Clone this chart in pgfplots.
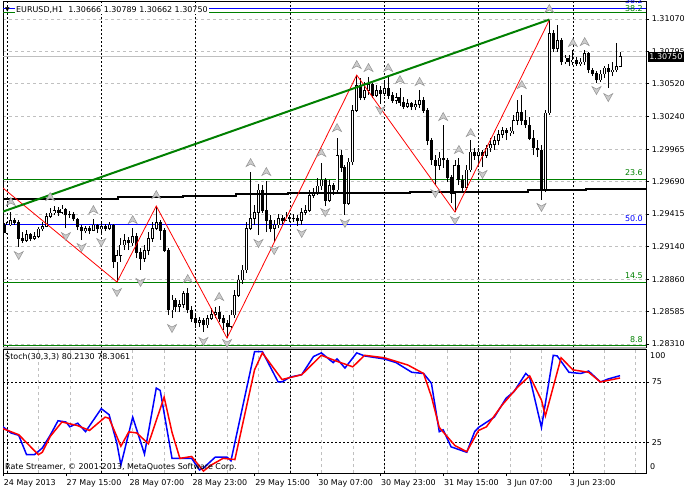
\documentclass[border=0pt]{standalone}
\usepackage{fontspec}
\setmainfont{DejaVu Sans}
\usepackage{pgfplots}
\usepackage{pgfplotstable}
\pgfplotsset{compat=1.18}

\definecolor{fibgreen}{RGB}{0,128,0}
\definecolor{fibblue}{RGB}{0,0,255}
\definecolor{zzred}{RGB}{255,0,0}
\definecolor{gridgray}{RGB}{192,192,192}
\definecolor{bidgray}{RGB}{192,192,192}

% EURUSD H1 candles, bar index i, open high low close
\pgfplotstableread{
i o h l c
0 1.29338 1.29363 1.29227 1.29253
1 1.29253 1.29346 1.29244 1.29321
2 1.29321 1.29431 1.29312 1.29363
3 1.29363 1.29380 1.29321 1.29346
4 1.29346 1.29363 1.29134 1.29210
5 1.29210 1.29261 1.29168 1.29193
6 1.29193 1.29278 1.29176 1.29244
7 1.29244 1.29253 1.29185 1.29210
8 1.29210 1.29261 1.29193 1.29227
9 1.29227 1.29304 1.29210 1.29287
10 1.29287 1.29346 1.29270 1.29312
11 1.29312 1.29423 1.29304 1.29397
12 1.29397 1.29465 1.29380 1.29423
13 1.29423 1.29482 1.29406 1.29448
14 1.29448 1.29474 1.29397 1.29431
15 1.29431 1.29491 1.29414 1.29457
16 1.29457 1.29465 1.29295 1.29406
17 1.29406 1.29440 1.29380 1.29414
18 1.29414 1.29431 1.29355 1.29372
19 1.29372 1.29380 1.29278 1.29304
20 1.29304 1.29321 1.29193 1.29270
21 1.29270 1.29312 1.29253 1.29295
22 1.29295 1.29312 1.29244 1.29278
23 1.29278 1.29372 1.29270 1.29321
24 1.29321 1.29329 1.29253 1.29287
25 1.29287 1.29346 1.29236 1.29312
26 1.29312 1.29329 1.29270 1.29295
27 1.29295 1.29346 1.29278 1.29321
28 1.29321 1.29329 1.28956 1.29007
29 1.29007 1.29108 1.28837 1.29066
30 1.29066 1.29210 1.29007 1.29151
31 1.29151 1.29244 1.29108 1.29193
32 1.29193 1.29219 1.29108 1.29168
33 1.29168 1.29295 1.29142 1.29227
34 1.29227 1.29253 1.29040 1.29091
35 1.29091 1.29125 1.28939 1.29040
36 1.29040 1.29151 1.29007 1.29108
37 1.29108 1.29261 1.29066 1.29210
38 1.29210 1.29346 1.29176 1.29295
39 1.29295 1.29482 1.29278 1.29346
40 1.29346 1.29363 1.29193 1.29278
41 1.29278 1.29295 1.29091 1.29108
42 1.29108 1.29125 1.28557 1.28599
43 1.28599 1.28726 1.28531 1.28684
44 1.28684 1.28701 1.28582 1.28625
45 1.28625 1.28684 1.28582 1.28642
46 1.28642 1.28760 1.28616 1.28743
47 1.28743 1.28786 1.28573 1.28599
48 1.28599 1.28633 1.28497 1.28531
49 1.28531 1.28557 1.28446 1.28497
50 1.28497 1.28540 1.28455 1.28514
51 1.28514 1.28531 1.28412 1.28472
52 1.28472 1.28557 1.28446 1.28531
53 1.28531 1.28616 1.28514 1.28565
54 1.28565 1.28625 1.28531 1.28582
55 1.28582 1.28633 1.28497 1.28531
56 1.28531 1.28557 1.28429 1.28489
57 1.28489 1.28514 1.28361 1.28463
58 1.28463 1.28599 1.28446 1.28557
59 1.28557 1.28769 1.28531 1.28726
60 1.28726 1.28896 1.28710 1.28854
61 1.28854 1.28981 1.28820 1.28939
62 1.28939 1.29346 1.28913 1.29295
63 1.29295 1.29771 1.29278 1.29380
64 1.29380 1.29491 1.29321 1.29431
65 1.29431 1.29669 1.29236 1.29618
66 1.29618 1.29660 1.29423 1.29448
67 1.29448 1.29694 1.29261 1.29363
68 1.29363 1.29406 1.29261 1.29295
69 1.29295 1.29363 1.29176 1.29321
70 1.29321 1.29414 1.29295 1.29380
71 1.29380 1.29406 1.29329 1.29363
72 1.29363 1.29431 1.29355 1.29389
73 1.29389 1.29406 1.29346 1.29372
74 1.29372 1.29414 1.29346 1.29380
75 1.29380 1.29406 1.29312 1.29363
76 1.29363 1.29465 1.29321 1.29431
77 1.29431 1.29491 1.29406 1.29448
78 1.29448 1.29618 1.29431 1.29575
79 1.29575 1.29635 1.29550 1.29601
80 1.29601 1.29720 1.29575 1.29652
81 1.29652 1.29847 1.29618 1.29703
82 1.29703 1.29720 1.29482 1.29533
83 1.29533 1.29703 1.29516 1.29660
84 1.29660 1.29677 1.29575 1.29618
85 1.29618 1.30059 1.29601 1.29915
86 1.29915 1.29958 1.29771 1.29813
87 1.29813 1.29830 1.29406 1.29507
88 1.29507 1.29890 1.29491 1.29856
89 1.29856 1.30340 1.29830 1.30297
90 1.30297 1.30594 1.30280 1.30509
91 1.30509 1.30569 1.30382 1.30407
92 1.30407 1.30535 1.30382 1.30467
93 1.30467 1.30577 1.30424 1.30518
94 1.30518 1.30526 1.30399 1.30424
95 1.30424 1.30509 1.30407 1.30467
96 1.30467 1.30501 1.30348 1.30441
97 1.30441 1.30552 1.30416 1.30484
98 1.30484 1.30586 1.30390 1.30424
99 1.30424 1.30450 1.30356 1.30382
100 1.30382 1.30441 1.30348 1.30407
101 1.30407 1.30484 1.30331 1.30365
102 1.30365 1.30407 1.30306 1.30331
103 1.30331 1.30390 1.30314 1.30356
104 1.30356 1.30365 1.30297 1.30323
105 1.30323 1.30382 1.30297 1.30348
106 1.30348 1.30467 1.30314 1.30382
107 1.30382 1.30407 1.30272 1.30297
108 1.30297 1.30314 1.30000 1.30042
109 1.30042 1.30059 1.29830 1.29873
110 1.29873 1.29915 1.29660 1.29830
111 1.29830 1.29941 1.29788 1.29890
112 1.29890 1.30170 1.29805 1.29873
113 1.29873 1.29890 1.29686 1.29728
114 1.29728 1.29745 1.29507 1.29592
115 1.29592 1.29873 1.29431 1.29830
116 1.29830 1.29890 1.29660 1.29703
117 1.29703 1.29745 1.29601 1.29643
118 1.29643 1.29830 1.29618 1.29788
119 1.29788 1.30042 1.29771 1.29941
120 1.29941 1.29975 1.29873 1.29915
121 1.29915 1.29975 1.29830 1.29941
122 1.29941 1.29958 1.29813 1.29915
123 1.29915 1.30000 1.29890 1.29975
124 1.29975 1.30059 1.29941 1.30008
125 1.30008 1.30076 1.29958 1.30042
126 1.30042 1.30127 1.30000 1.30093
127 1.30093 1.30153 1.30059 1.30127
128 1.30127 1.30144 1.30042 1.30102
129 1.30102 1.30153 1.30076 1.30119
130 1.30119 1.30255 1.30093 1.30212
131 1.30212 1.30382 1.30170 1.30280
132 1.30280 1.30424 1.30170 1.30212
133 1.30212 1.30297 1.30144 1.30170
134 1.30170 1.30238 1.30042 1.30059
135 1.30059 1.30127 1.29915 1.29975
136 1.29975 1.30042 1.29898 1.29958
137 1.29958 1.30000 1.29533 1.29618
138 1.29618 1.30297 1.29601 1.30272
139 1.30272 1.31061 1.30255 1.30951
140 1.30951 1.30976 1.30790 1.30823
141 1.30823 1.31019 1.30790 1.30891
142 1.30891 1.30908 1.30679 1.30705
143 1.30705 1.30764 1.30688 1.30739
144 1.30739 1.30764 1.30671 1.30705
145 1.30705 1.30807 1.30679 1.30722
146 1.30722 1.30747 1.30671 1.30688
147 1.30688 1.30739 1.30671 1.30705
148 1.30705 1.30807 1.30679 1.30781
149 1.30781 1.30790 1.30611 1.30637
150 1.30637 1.30654 1.30586 1.30611
151 1.30611 1.30628 1.30526 1.30552
152 1.30552 1.30637 1.30535 1.30603
153 1.30603 1.30671 1.30569 1.30654
154 1.30654 1.30688 1.30484 1.30620
155 1.30620 1.30705 1.30586 1.30637
156 1.30637 1.30866 1.30620 1.30666
157 1.30666 1.30789 1.30662 1.30750
}\candles

% fractal arrows
\pgfdeclareplotmark{fup}{%
  \pgfpathmoveto{\pgfpoint{0bp}{4.5bp}}%
  \pgfpathlineto{\pgfpoint{4.5bp}{-3.5bp}}%
  \pgfpathlineto{\pgfpoint{0bp}{-1bp}}%
  \pgfpathlineto{\pgfpoint{-4.5bp}{-3.5bp}}%
  \pgfpathclose\pgfusepathqfillstroke}
\pgfdeclareplotmark{fdn}{%
  \pgfpathmoveto{\pgfpoint{0bp}{-4.5bp}}%
  \pgfpathlineto{\pgfpoint{4.5bp}{3.5bp}}%
  \pgfpathlineto{\pgfpoint{0bp}{1bp}}%
  \pgfpathlineto{\pgfpoint{-4.5bp}{3.5bp}}%
  \pgfpathclose\pgfusepathqfillstroke}

\pgfplotsset{
  mtpanel/.style={
    scale only axis, width=643bp, xmin=0, xmax=163.6,
    axis line style={black, line width=0.8bp},
    tick style={black, line width=0.6bp},
    major tick length=3bp, minor tick length=0pt, tick align=outside,
    minor xtick={1,9,...,161}, xminorgrids=true,
    minor grid style={gridgray, dash pattern=on 3bp off 3bp, line width=0.6bp},
    extra x ticks={1,25,...,145}, extra x tick labels={},
    extra x tick style={major tick length=0pt, grid=major,
      major grid style={black, dash pattern=on 2bp off 2bp, line width=0.7bp}},
    tick label style={font=\fontsize{8}{9.5}\selectfont},
    ytick pos=right, yticklabel pos=right,
  },
  wick/.style={draw=none, mark=none, forget plot, error bars/.cd, y dir=plus, y explicit,
    error mark=none, error bar style={draw=black, line width=0.9bp}},
  body/.style={draw=none, mark=none, forget plot, error bars/.cd, y dir=plus, y explicit,
    error mark=none, error bar style={draw=black, line width=3bp, line cap=butt}},
  inner/.style={draw=none, mark=none, forget plot, error bars/.cd, y dir=plus, y explicit,
    error mark=none, error bar style={draw=white, line width=1.2bp, line cap=butt}},
}

\begin{document}
\fontsize{8}{9.5}\selectfont
\begin{tikzpicture}
\useasboundingbox (0,0) rectangle (688bp,-491bp);
\fill[white] (0,0) rectangle (688bp,-491bp);

\begin{axis}[mtpanel,
  at={(3bp,-1bp)}, anchor=north west, height=346bp,
  ymin=1.28285, ymax=1.31223,
  xtick=\empty,
  ytick={1.28310,1.28585,1.28860,1.29140,1.29415,1.29690,1.29965,1.30240,1.30520,1.30795,1.31070},
  yticklabels={1.28310,1.28585,1.28860,1.29140,1.29415,1.29690,1.29965,1.30240,1.30520,1.30795,1.31070},
  ymajorgrids=true,
  major grid style={gridgray, dash pattern=on 3bp off 3bp, line width=0.6bp},
]
% fibonacci levels
\addplot[fibblue, line width=0.8bp, forget plot] coordinates {(0,1.31163) (163.6,1.31163)};
\addplot[fibgreen, line width=0.8bp, forget plot] coordinates {(0,1.31123) (163.6,1.31123)};
\addplot[fibgreen, line width=0.8bp, forget plot] coordinates {(0,1.29711) (163.6,1.29711)};
\addplot[fibblue, line width=0.8bp, forget plot] coordinates {(0,1.29329) (163.6,1.29329)};
\addplot[fibgreen, line width=0.8bp, forget plot] coordinates {(0,1.28837) (163.6,1.28837)};
\addplot[fibgreen, line width=0.8bp, forget plot] coordinates {(0,1.28300) (163.6,1.28300)};
% bid line
\addplot[bidgray, line width=0.8bp, forget plot] coordinates {(0,1.30750) (163.6,1.30750)};

% candles
\addplot[wick] table[x=i, y=l, y error plus expr=\thisrow{h}-\thisrow{l}] {\candles};
\addplot[body] table[x=i, y expr={min(\thisrow{o},\thisrow{c})-0.00004},
  y error plus expr={abs(\thisrow{c}-\thisrow{o})+0.00008}] {\candles};
\addplot[inner] table[x=i, y expr={\thisrow{o}+0.00004},
  y error plus expr={max(\thisrow{c}-\thisrow{o}-0.00008,0)}] {\candles};

% moving average (step)
\addplot[black, line width=2bp, const plot, forget plot] coordinates {
(0,1.29539) (14.5,1.29544) (29.3,1.29556) (45.8,1.29567) (59.3,1.29580)
(72.5,1.29590) (103.5,1.29603) (133.6,1.29615) (148.3,1.29626) (163.6,1.29626)};

% zigzag
\addplot[zzred, line width=0.8bp, forget plot] coordinates {
(0,1.29635) (29,1.28837) (39,1.29482) (57,1.28361) (90,1.30594) (115,1.29431) (139,1.31061)};

% trend line
\addplot[fibgreen, line width=2bp, forget plot] coordinates {(0,1.29435) (139,1.31065)};

% fractals
\addplot[only marks, mark=fup, mark options={fill=gray!40, draw=gray!85, line width=0.5bp}, forget plot] coordinates {
(2,1.29516) (12,1.29558) (23,1.29448) (33,1.29363) (39,1.29575) (47,1.28862)
(55,1.28710) (63,1.29847) (67,1.29771) (81,1.29932) (85,1.30144) (90,1.30679)
(93,1.30654) (98,1.30654) (101,1.30552) (106,1.30535) (112,1.30238) (116,1.29958)
(119,1.30102) (132,1.30509) (139,1.31155) (145,1.30866) (148,1.30874)};
\addplot[only marks, mark=fdn, mark options={fill=gray!40, draw=gray!85, line width=0.5bp}, forget plot] coordinates {
(4,1.29066) (16,1.29227) (20,1.29134) (25,1.29176) (29,1.28752) (35,1.28837)
(43,1.28446) (51,1.28336) (57,1.28319) (65,1.29168) (69,1.29108) (76,1.29253)
(82,1.29431) (87,1.29338) (96,1.30297) (110,1.29592) (115,1.29363) (122,1.29754)
(137,1.29474) (151,1.30467) (154,1.30407)};
\end{axis}

\begin{axis}[mtpanel,
  at={(3bp,-349bp)}, anchor=north west, height=124bp,
  ymin=-0.1, ymax=102.2,
  xtick={0,16,...,144},
  xticklabels={24 May 2013,27 May 15:00,28 May 07:00,28 May 23:00,29 May 15:00,30 May 07:00,30 May 23:00,31 May 15:00,3 Jun 07:00,3 Jun 23:00},
  xtick pos=bottom,
  xticklabel style={anchor=north west, xshift=-2bp, yshift=-1bp},
  ytick={25,75}, yticklabels={25,75},
  ymajorgrids=true,
  major grid style={black, dash pattern=on 2bp off 2bp, line width=0.7bp},
]
\addplot[fibblue, line width=1.5bp] coordinates {
(0,38) (2,33) (4,31) (6,15) (8,15) (10,20.5) (12,31) (14,43) (16,42) (17,38) (19,41)
(21,34) (25,53) (27,48) (29,24) (30,6.5) (33,46) (36,15.5) (39,70) (40,68) (43,12)
(45,12) (48,12) (50,2.4) (51,4) (54,13) (57,13) (58,10) (64,100) (66,100) (70,75)
(71,75) (73,79) (76,81) (79,96) (81,99) (84,91) (85,94) (87,86.5) (90,99) (92,96.5)
(97,94) (100,91) (104,83) (107,82) (109,74) (111,34) (112,35.5) (114,21.5) (118,17)
(120,34) (121,37.5) (125,46) (128,61.6) (130,67) (133,82) (134,79) (137,37.5)
(140,97) (141,96.5) (144,83) (147,82) (149,84) (152,75) (154,77.5) (157,80.2)};
\addplot[zzred, line width=1.5bp] coordinates {
(0,36.5) (4,31.5) (9,15) (10,17) (12,30) (15,42) (19,39) (22,35) (26,46) (27,45)
(30,22) (32,33.8) (34,33) (37,24) (41,62.5) (43,33.5) (45,12) (48,13.5) (51,1.5)
(53,6.5) (56,12) (59,11) (64,85) (66,99) (71,77) (76,81) (81,97) (85,92) (89,87.5)
(92,97) (97,95) (103,89) (107,82) (109,63) (111,37.5) (115,22.5) (118,17.5) (121,35)
(123,38) (127,56) (131,71) (134,80) (137,60) (138,47) (142,95) (145,85) (149,83)
(152,75) (157,78.3)};
\end{axis}

% panel separator
\draw[gray!60, line width=2bp] (3bp,-348bp) -- (646bp,-348bp);

% header and labels
\node[anchor=west, fill=white, inner sep=1bp] at (15bp,-10bp) {EURUSD,H1\ \ 1.30666 1.30789 1.30662 1.30750};
\node[anchor=west, inner sep=0pt, font=\fontsize{6}{6}\selectfont] at (5bp,-10bp) {▼};
\node[anchor=east, inner sep=0pt, text=fibblue] at (643bp,-1bp) {38.2};
\node[anchor=east, inner sep=0pt, text=fibgreen] at (643bp,-8.5bp) {38.2};
\node[anchor=east, inner sep=0pt, text=fibgreen] at (643bp,-173bp) {23.6};
\node[anchor=east, inner sep=0pt, text=fibblue] at (643bp,-219bp) {50.0};
\node[anchor=east, inner sep=0pt, text=fibgreen] at (643bp,-276bp) {14.5};
\node[anchor=east, inner sep=0pt, text=fibgreen] at (643bp,-340bp) {8.8};
\node[anchor=west, fill=black, text=white, inner sep=1.2bp, minimum height=10bp] at (648bp,-57bp) {1.30750};
\node[anchor=west, inner sep=0pt] at (5bp,-357bp) {Stoch(30,3,3) 80.2130 78.3061};
\node[anchor=west, inner sep=0pt] at (5bp,-467bp) {Rate Streamer, © 2001-2013, MetaQuotes Software Corp.};
\node[anchor=west, inner sep=0pt] at (650bp,-356bp) {100};
\node[anchor=west, inner sep=0pt] at (650bp,-467bp) {0};
\end{tikzpicture}
\end{document}
